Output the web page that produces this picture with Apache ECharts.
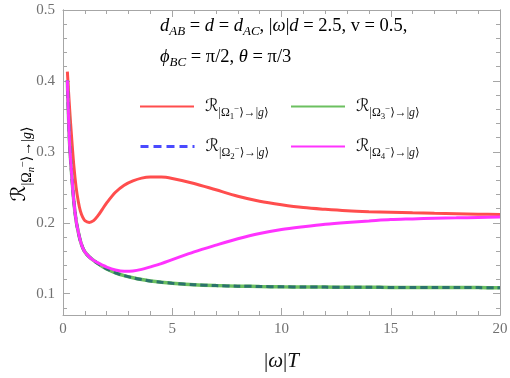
<!DOCTYPE html>
<html>
<head>
<meta charset="utf-8">
<script src="https://cdn.jsdelivr.net/npm/echarts@6/dist/echarts.min.js"></script>
<style>
  html, body { margin: 0; padding: 0; background: #fff; }
  #chart { width: 510px; height: 378px; }
</style>
</head>
<body>
<div id="chart"></div>
<script>
const xs = [0.2, 0.3, 0.4, 0.5, 0.6, 0.7, 0.8, 0.9, 1.0, 1.2, 1.4, 1.6, 1.8, 2.0, 2.4, 2.8, 3.2, 3.6, 4, 4.5, 5, 6, 7, 8, 9, 10, 11, 12, 13, 14, 15, 16, 17, 18, 19, 20]

const omega1 = [0.413, 0.362, 0.318, 0.279, 0.25, 0.23, 0.216, 0.208, 0.203, 0.2005, 0.203, 0.21, 0.219, 0.228, 0.243, 0.253, 0.259, 0.263, 0.2645, 0.2645, 0.2625, 0.2555, 0.2465, 0.2375, 0.2305, 0.2255, 0.2215, 0.219, 0.217, 0.2157, 0.2148, 0.214, 0.2133, 0.2127, 0.2122, 0.2118]
const omega2 = [0.401, 0.313, 0.267, 0.229, 0.203, 0.187, 0.174, 0.165, 0.159, 0.152, 0.147, 0.1425, 0.1385, 0.135, 0.1295, 0.1255, 0.1225, 0.12, 0.118, 0.1162, 0.1148, 0.1127, 0.1115, 0.1107, 0.1102, 0.1098, 0.1095, 0.1093, 0.1091, 0.109, 0.1089, 0.1088, 0.1087, 0.1086, 0.1086, 0.1085]
const omega3 = omega2.slice()
const omega4 = [0.401, 0.313, 0.267, 0.229, 0.203, 0.187, 0.174, 0.165, 0.159, 0.152, 0.147, 0.1435, 0.1405, 0.1375, 0.1335, 0.1316, 0.132, 0.1343, 0.1378, 0.1425, 0.148, 0.159, 0.1685, 0.1775, 0.185, 0.1905, 0.1945, 0.198, 0.2005, 0.2025, 0.2045, 0.2055, 0.2065, 0.207, 0.2075, 0.208]

const yMajorTicks = [0.1, 0.2, 0.3, 0.4, 0.5]
const yMinorTicks = [0.08, 0.12, 0.14, 0.16, 0.18, 0.22, 0.24, 0.26, 0.28, 0.32, 0.34, 0.36, 0.38, 0.42, 0.44, 0.46, 0.48]

const SERIF = "'Liberation Serif', 'DejaVu Serif', serif"
const MATH = "'Liberation Serif', 'DejaVu Serif', 'DejaVu Sans', serif"
const FRAME = '#a6a6a6'
const LABEL = '#707070'

const pairs = (ys) => xs.map((x, i) => [x, ys[i]])

// tokens for R_{|Ω_n^-> -> |g>}
const richR = (size) => ({
  R: { fontFamily: MATH, fontSize: size, color: '#111' },
  s: { fontFamily: MATH, fontSize: size * 0.7, color: '#111', padding: [size * 0.75, 0, 0, 0] },
  si: { fontFamily: MATH, fontSize: size * 0.7, fontStyle: 'italic', color: '#111', padding: [size * 0.75, 0, 0, 0] },
  ss: { fontFamily: MATH, fontSize: size * 0.52, color: '#111', padding: [size * 1.15, 0, 0, 0] },
  ssi: { fontFamily: MATH, fontSize: size * 0.52, fontStyle: 'italic', color: '#111', padding: [size * 1.15, 0, 0, 0] },
  sp: { fontFamily: MATH, fontSize: size * 0.52, color: '#111', padding: [size * 0.3, 0, 0, 0] }
})
const rLabel = (idx) => `{R|ℛ}{s||Ω}{ss|${idx}}{sp|−}{s|⟩→|}{si|g}{s|⟩}`

const legendBox = (name, left, top, lineStyle) => ({
  data: [lineStyle ? { name, lineStyle } : name],
  left, top,
  padding: 0,
  itemWidth: 54,
  itemHeight: 14,
  selectedMode: false,
  itemStyle: { color: 'rgba(0,0,0,0)', borderColor: 'rgba(0,0,0,0)', borderWidth: 0 },
  formatter: (n) => rLabel(n.slice(1)),
  textStyle: { rich: richR(17), padding: [0, 0, 0, 6] }
})

const chart = echarts.init(document.getElementById('chart'))

const baseX = {
  type: 'value', min: 0, max: 20, interval: 5,
  axisLine: { show: true, onZero: false, lineStyle: { color: FRAME, width: 1 } },
  axisTick: { show: true, inside: true, length: 7, lineStyle: { color: FRAME } },
  minorTick: { show: true, splitNumber: 5, length: 4, lineStyle: { color: FRAME } },
  splitLine: { show: false }
}
const baseY = (position, ticks, len, labels) => ({
  type: 'value', min: 0.07, max: 0.5, position,
  axisLine: { show: true, onZero: false, lineStyle: { color: FRAME, width: 1 } },
  axisTick: { show: true, inside: true, length: len, customValues: ticks, lineStyle: { color: FRAME } },
  axisLabel: labels ? {
    show: true, customValues: yMajorTicks, margin: 8,
    fontFamily: SERIF, fontSize: 15, color: LABEL,
    formatter: (v) => v.toFixed(1)
  } : { show: false },
  splitLine: { show: false }
})

chart.setOption({
  animation: false,
  grid: { left: 63, right: 10, top: 10, bottom: 63, outerBoundsMode: 'none', containLabel: false },
  xAxis: [
    Object.assign({}, baseX, {
      position: 'bottom',
      axisLabel: { fontFamily: SERIF, fontSize: 15, color: LABEL, margin: 7 },
      name: '{b||}{i|ω}{b||}{i|T}',
      nameLocation: 'middle',
      nameGap: 36,
      nameTextStyle: {
        rich: {
          b: { fontFamily: MATH, fontSize: 21, color: '#111' },
          i: { fontFamily: MATH, fontSize: 21, fontStyle: 'italic', color: '#111' }
        }
      }
    }),
    Object.assign({}, baseX, { position: 'top', axisLabel: { show: false } })
  ],
  yAxis: [
    baseY('left', yMajorTicks, 7, true),
    baseY('left', yMinorTicks, 4, false),
    baseY('right', yMajorTicks, 7, false),
    baseY('right', yMinorTicks, 4, false)
  ],
  legend: [
    legendBox('r1', 139, 98),
    legendBox('r3', 290, 98),
    legendBox('r2', 139, 138, { color: '#4a4aff', type: [8, 5], width: 3 }),
    legendBox('r4', 290, 138)
  ],
  graphic: [
    {
      type: 'text', left: 160, top: 17,
      style: {
        text: '{i|d}{sb|AB}{n| = }{i|d}{n| = }{i|d}{sb|AC}{n|, |}{i|ω}{n||}{i|d}{n| = 2.5, v = 0.5,}\n' +
              '{i|ϕ}{sb|BC}{n| = π/2, }{i|θ}{n| = π/3}',
        rich: {
          n: { fontFamily: MATH, fontSize: 18.5, color: '#111', lineHeight: 31 },
          i: { fontFamily: MATH, fontSize: 18.5, fontStyle: 'italic', color: '#111', lineHeight: 31 },
          sb: { fontFamily: MATH, fontSize: 13, fontStyle: 'italic', color: '#111', padding: [11, 0, 0, 0] }
        }
      }
    },
    {
      // y-axis title, rotated
      type: 'text', x: 20, y: 164, rotation: Math.PI / 2,
      style: {
        text: '{R|ℛ}{s||Ω}{ssi|n}{sp|−}{s|⟩→|}{si|g}{s|⟩}',
        align: 'center', verticalAlign: 'middle',
        rich: richR(20)
      }
    }
  ],
  series: [
    {
      name: 'r1', type: 'line', data: pairs(omega1), smooth: 0.3,
      symbol: 'none', z: 2,
      color: '#ff4d4d',
      lineStyle: { color: '#ff4d4d', width: 3 }
    },
    {
      name: 'r3', type: 'line', data: pairs(omega3), smooth: 0.3,
      symbol: 'none', z: 3,
      color: '#6cc060',
      lineStyle: { color: '#6cc060', width: 3.5 }
    },
    {
      name: 'r2', type: 'line', data: pairs(omega2), smooth: 0.3,
      symbol: 'none', z: 4,
      color: '#4a4aff',
      lineStyle: { color: '#2b736c', width: 3, type: [7, 4] }
    },
    {
      name: 'r4', type: 'line', data: pairs(omega4), smooth: 0.3,
      symbol: 'none', z: 5,
      color: '#ff33ff',
      lineStyle: { color: '#ff33ff', width: 3 }
    }
  ]
})
</script>
</body>
</html>
